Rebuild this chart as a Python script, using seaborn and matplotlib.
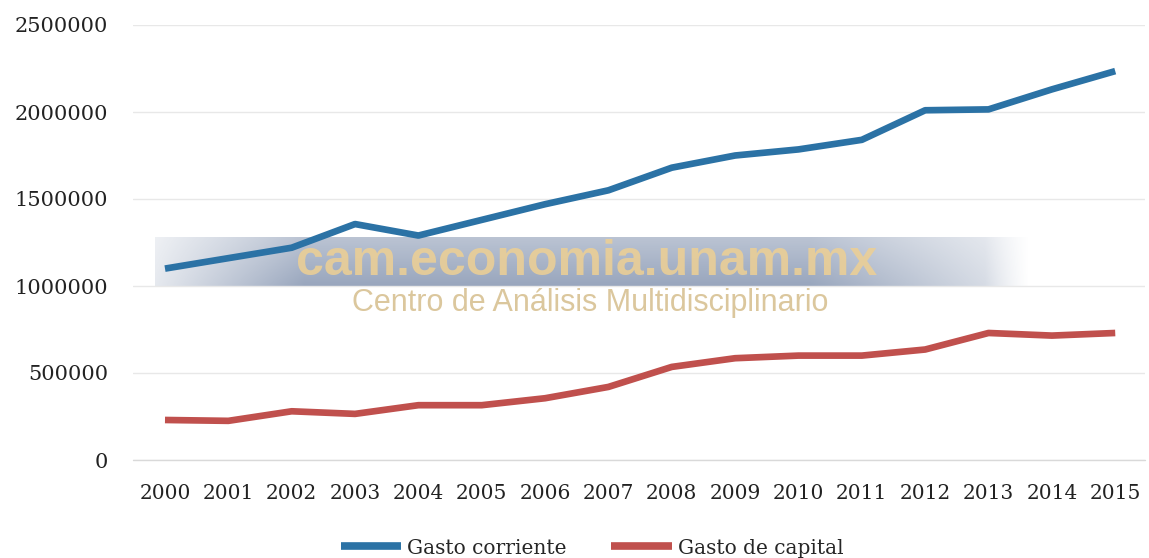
import numpy as np
import pandas as pd
import matplotlib
matplotlib.use("Agg")
import matplotlib.pyplot as plt
import seaborn as sns

years = [str(y) for y in range(2000, 2016)]
gasto_corriente = [1100000, 1160000, 1220000, 1356000, 1290000, 1380000, 1470000, 1550000,
                   1680000, 1750000, 1785000, 1840000, 2010000, 2015000, 2130000, 2235000]
gasto_capital = [230000, 225000, 280000, 265000, 315000, 315000, 355000, 420000,
                 535000, 585000, 600000, 600000, 635000, 730000, 715000, 730000]
series_names = ["Gasto corriente", "Gasto de capital"]
colors = ["#2b72a5", "#c0504d"]
yticks = [0, 500000, 1000000, 1500000, 2000000, 2500000]

df = pd.DataFrame({
    "year": years * 2,
    "value": gasto_corriente + gasto_capital,
    "serie": [series_names[0]] * len(years) + [series_names[1]] * len(years),
})

sns.set_theme(style="white")
plt.rcParams["font.family"] = ["DejaVu Serif"]

W, H = 1149, 558
fig = plt.figure(figsize=(W / 100, H / 100), dpi=100)
fig.patch.set_facecolor("white")

ax = fig.add_axes([133 / W, (H - 460) / H, (1145 - 133) / W, (460 - 25) / H])

# watermark band (behind lines)
wm = fig.add_axes([155 / W, (H - 287) / H, (1030 - 155) / W, 50 / H], zorder=0.5)
wm.set_axis_off()
nx, ny = 400, 50
xs = np.linspace(0, 1, nx)
ys = np.linspace(0, 1, ny)[:, None]  # 0 top, 1 bottom
ax_alpha = np.clip(xs / 0.17, 0, 1) * np.clip((1.0 - xs) / 0.25, 0, 1)
ax_alpha = 0.25 + 0.75 * ax_alpha
ax_alpha = ax_alpha * np.clip((1.0 - xs) / 0.05, 0, 1)
v = 0.6 + 0.3 * ys
rgba = np.zeros((ny, nx, 4))
rgba[..., 0] = 0.55
rgba[..., 1] = 0.61
rgba[..., 2] = 0.71
rgba[..., 3] = np.clip(ax_alpha[None, :] * v, 0, 1)
wm.imshow(rgba, aspect="auto", extent=(0, 1, 0, 1), interpolation="bilinear")
wm.set_xlim(0, 1)
wm.set_ylim(0, 1)

ax.set_zorder(1)
ax.patch.set_alpha(0)

sns.lineplot(data=df, x="year", y="value", hue="serie", palette=colors,
             linewidth=4.8, ax=ax, sort=False, legend=False, solid_capstyle="butt")

ax.set_xlim(-0.505, 15.47)
ax.set_ylim(0, 2500000)
ax.set_yticks(yticks)
ax.set_yticklabels([str(v) for v in yticks])
ax.grid(axis="y", color="#e8e8e8", linewidth=1)
ax.grid(axis="x", visible=False)
for s in ax.spines.values():
    s.set_visible(False)
ax.axhline(0, color="#d9d9d9", linewidth=1, zorder=0, clip_on=False)
ax.tick_params(axis="both", length=0, labelcolor="#222222")
ax.tick_params(axis="y", pad=18, labelsize=15)
ax.tick_params(axis="x", pad=17, labelsize=14.5)
ax.set_xlabel("")
ax.set_ylabel("")

handles = [plt.Line2D([], [], color=c, linewidth=5.5, solid_capstyle="butt") for c in colors]
fig.legend(handles, series_names, loc="center", bbox_to_anchor=(592 / W, (H - 548) / H), ncol=2,
           frameon=False, fontsize=14.5, handlelength=3.0, handletextpad=0.3,
           columnspacing=2.2, borderpad=0, borderaxespad=0)

# watermark text
fig.text(587 / W, (H - 262) / H, "cam.economia.unam.mx", family="Liberation Sans",
         fontsize=36, weight="bold", color="#eccf95", alpha=0.88, ha="center", va="center", zorder=3)
fig.text(590 / W, (H - 303) / H, "Centro de Análisis Multidisciplinario", family="Liberation Sans",
         fontsize=22, color="#d5bd8c", alpha=0.85, ha="center", va="center", zorder=3)

fig.savefig("out.png", dpi=100, facecolor="white")
